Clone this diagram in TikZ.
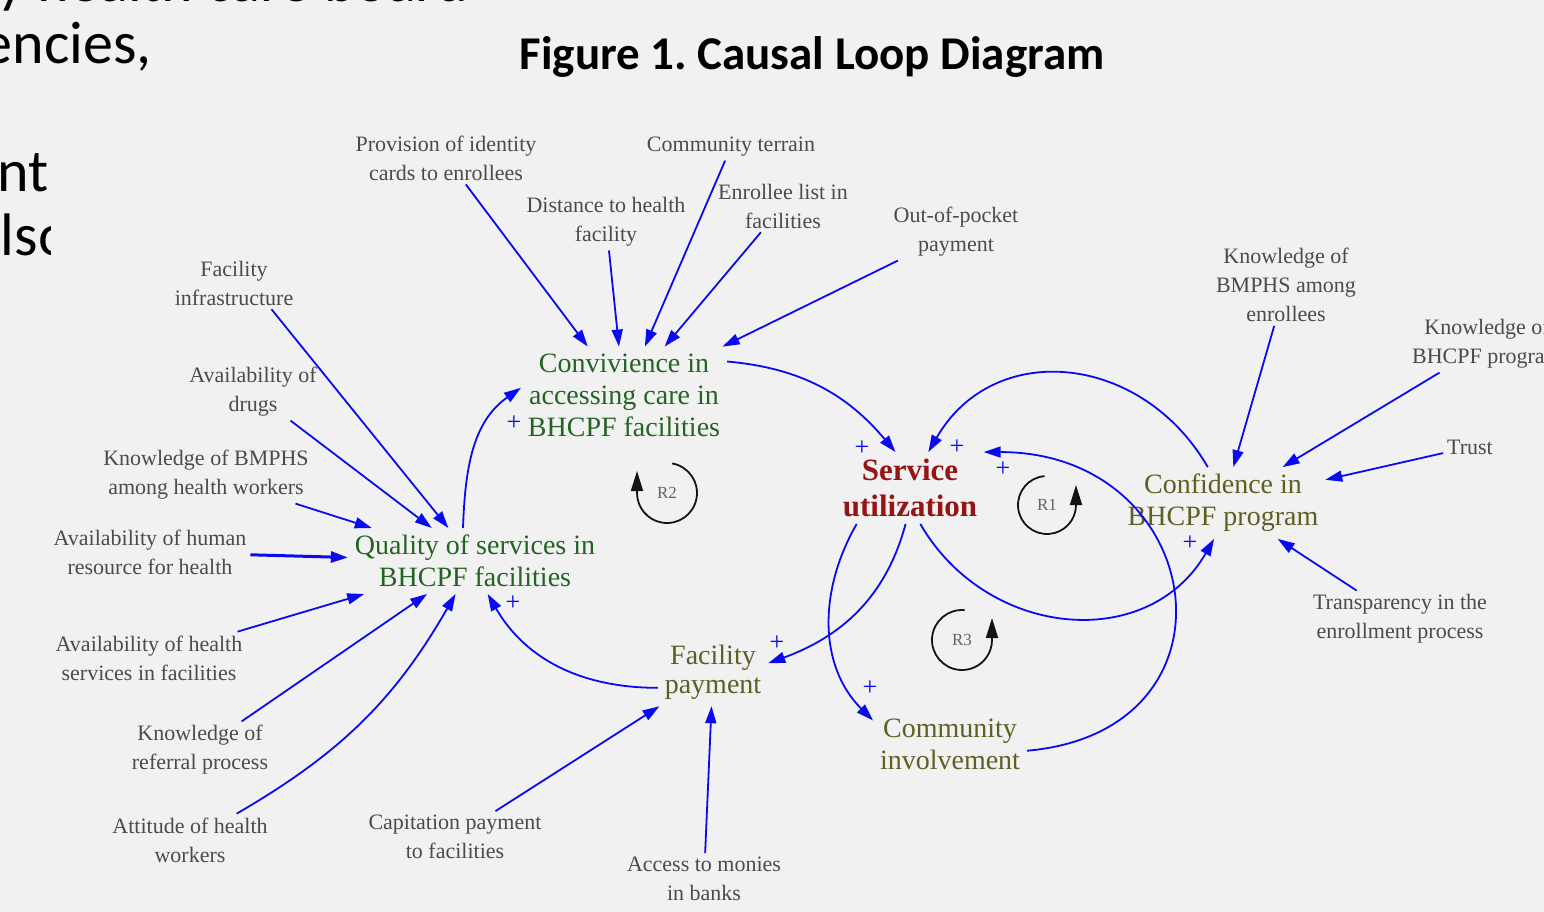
\documentclass[tikz,border=0pt]{standalone}
\usepackage{fontspec}
\setmainfont{Liberation Serif}
\newfontfamily\calfont{Carlito}
\usetikzlibrary{arrows.meta}
\definecolor{bgc}{RGB}{241,241,241}
\definecolor{lnk}{RGB}{10,10,240}
\definecolor{exoc}{RGB}{75,75,75}
\definecolor{grn}{RGB}{35,100,35}
\definecolor{olv}{RGB}{95,95,35}
\definecolor{dred}{RGB}{150,20,20}
\definecolor{loopc}{RGB}{20,20,20}
\definecolor{lblc}{RGB}{100,100,100}
\begin{document}
\begin{tikzpicture}[x=1pt,y=1pt,
  exo/.style={font=\fontsize{22}{29}\selectfont, text=exoc, align=center, inner sep=2pt, outer sep=2pt},
  mainv/.style={font=\fontsize{28}{32}\selectfont, align=center, inner sep=3pt, outer sep=4pt},
  arr/.style={draw=lnk, line width=1.8pt, -{Triangle[length=17pt,width=11pt]}},
  pl/.style={text=lnk, font=\fontsize{26}{26}\selectfont, inner sep=0pt},
  loopar/.style={draw=loopc, line width=1.8pt, -{Triangle[length=20pt,width=12pt]}},
  looplbl/.style={text=lblc, font=\fontsize{17}{17}\selectfont, inner sep=0pt},
  bigtxt/.style={font=\calfont\fontsize{60}{64}\selectfont, inner sep=0pt, anchor=base east}
]
\useasboundingbox (0,0) rectangle (1544,-912);
\fill[bgc] (0,0) rectangle (1544,-912);

% slide text on the left
\node[bigtxt, anchor=base west] (l1) at (-3,-2) {y health care board};
\node[bigtxt] (l2) at (152,-64) {encies,};
\node[bigtxt] (l3) at (49,-192) {nt};
\begin{scope}
\clip (-5,-190) rectangle (50,-290);
\node[bigtxt, anchor=base west] (l4) at (-28,-255) {also};
\end{scope}

% title
\node[font=\calfont\bfseries\fontsize{47}{50}\selectfont, anchor=base, inner sep=0pt] (title) at (812,-70) {Figure 1.\ Causal Loop Diagram};

% main variables
\node[mainv, text=grn] (conv) at (624,-395) {Convivience in\\accessing care in\\BHCPF facilities};
\node[mainv, text=grn] (qual) at (475,-561) {Quality of services in\\BHCPF facilities};
\node[mainv, text=dred, font=\bfseries\fontsize{31}{36}\selectfont] (su) at (910,-488) {Service\\utilization};
\node[mainv, text=olv] (conf) at (1223,-503) {Confidence in\\BHCPF program};
\node[mainv, text=olv, font=\fontsize{28}{29}\selectfont] (fp) at (713,-672) {Facility\\payment};
\node[mainv, text=olv] (comm) at (950,-744) {Community\\involvement};

% exogenous variables
\node[exo] (prov) at (446,-158) {Provision of identity\\cards to enrollees};
\node[exo] (terr) at (731,-147) {Community terrain};
\node[exo] (dist) at (606,-222) {Distance to health\\facility};
\node[exo] (enrl) at (783,-206) {Enrollee list in\\facilities};
\node[exo] (oop) at (956,-232) {Out-of-pocket\\payment};
\node[exo] (finf) at (234,-283) {Facility\\infrastructure};
\node[exo] (drug) at (253,-392) {Availability of\\drugs};
\node[exo] (kbhw) at (206,-475) {Knowledge of BMPHS\\among health workers};
\node[exo] (hr) at (150,-552) {Availability of human\\resource for health};
\node[exo] (hs) at (149,-658) {Availability of health\\services in facilities};
\node[exo] (ref) at (200,-750) {Knowledge of\\referral process};
\node[exo] (att) at (190,-840) {Attitude of health\\workers};
\node[exo] (cap) at (455,-837) {Capitation payment\\to facilities};
\node[exo] (bank) at (704,-879) {Access to monies\\in banks};
\node[exo] (kbe) at (1286,-285) {Knowledge of\\BMPHS among\\enrollees};
\node[exo] (kbp) at (1487,-344) {Knowledge of\\BHCPF program};
\node[exo] (trust) at (1470,-447) {Trust};
\node[exo] (trans) at (1400,-619) {Transparency in the\\enrollment process};

% exogenous links
\draw[arr] (prov) -- (conv);
\draw[arr] (dist) -- (conv);
\draw[arr] (terr) -- (conv);
\draw[arr] (enrl) -- (conv);
\draw[arr] (oop) -- (conv);
\draw[arr] (finf.-35) -- (qual);
\draw[arr] (drug) -- (qual);
\draw[arr] (kbhw) -- (qual);
\draw[arr, line width=3pt] (hr) -- (qual);
\draw[arr] (hs) -- (qual);
\draw[arr] (ref) -- (qual);
\draw[arr] (att) to[bend right=15] (qual);
\draw[arr] (cap) -- (fp);
\draw[arr] (bank) -- (fp);
\draw[arr] (kbe) -- (conf);
\draw[arr] (kbp) -- (conf);
\draw[arr] (trust) -- (conf);
\draw[arr] (trans) -- (conf);

% loop links
\draw[arr] (conv.18) to[out=-5,in=130] (su.112);
\draw[arr] (conf.113) to[out=120,in=60,looseness=1.2] (su.63);
\draw[arr] (comm.-5) to[out=5,in=0,looseness=1.9] (su.26);
\draw[arr] (su.-74) to[out=-60,in=-120,looseness=1.15] (conf.-104);
\draw[arr] (su.-97) to[out=-105,in=20] (fp.9);
\draw[arr] (su.-146) to[out=-120,in=135] (comm.163);
\draw[arr] (fp.-164) to[out=180,in=-60] (qual.-69);
\draw[arr] (qual.110) to[out=88,in=215] (conv.176);

% polarities
\node[pl] (p1) at (862,-448) {+};
\node[pl] (p2) at (957,-447) {+};
\node[pl] (p3) at (1003,-469) {+};
\node[pl] (p4) at (1190,-543) {+};
\node[pl] (p5) at (777,-643) {+};
\node[pl] (p6) at (870,-688) {+};
\node[pl] (p7) at (513,-603) {+};
\node[pl] (p8) at (514,-423) {+};

% loop markers
\draw[loopar] (667,-493) ++(80:30) arc[start angle=80,end angle=-180,radius=30] -- ++(0,22);
\node[looplbl] (r2) at (667,-493) {R2};
\draw[loopar] (1047,-505) ++(95:29) arc[start angle=95,end angle=360,radius=29] -- ++(0,20);
\node[looplbl] (r1) at (1047,-505) {R1};
\draw[loopar] (962,-640) ++(85:30) arc[start angle=85,end angle=360,radius=30] -- ++(0,22);
\node[looplbl] (r3) at (962,-640) {R3};
\end{tikzpicture}
\end{document}
